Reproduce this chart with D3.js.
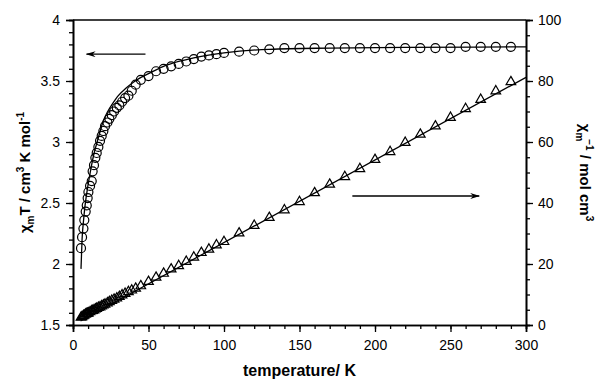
<!doctype html>
<html lang="en">
<head>
	<meta charset="UTF-8">
	<title>chi T</title>
	<script src="https://cdn.jsdelivr.net/npm/d3@7"></script>
	<style>
		body { margin: 0; background: #fff; }
		text { font-family: "Liberation Sans", Arial, sans-serif; }
	</style>
</head>
<body>
<div id="container"></div>
<script>
	var width = 602, height = 381;
	var margin = {"left": 73, "top": 20, "right": 76, "bottom": 56};
	var g_width = width - margin.left - margin.right;
	var g_height = height - margin.top - margin.bottom;

	// temperatures (K) of the measured points
	var temps = [5.3, 6, 6.9, 7.5, 8.4, 9.1, 9.7, 10.2, 11.3, 12.4, 13.0, 13.9, 14.8, 15.7, 16.8, 17.9, 19, 20.1,
		21.2, 22.8, 24.1, 25.7, 27.2, 29, 30.7, 32.5, 34.5, 36.7, 38.9, 41.5, 44.9, 50, 55, 60, 65, 70, 75, 80,
		85, 90, 95, 100, 110, 120, 130, 140, 150, 160, 170, 180, 190, 200, 210, 220, 230, 240, 250, 260, 270,
		280, 290];
	// chi_m T (cm3 K mol-1), left axis
	var chiT = [2.13, 2.22, 2.29, 2.36, 2.43, 2.48, 2.54, 2.59, 2.64, 2.68, 2.76, 2.81, 2.87, 2.91, 2.96, 3.01,
		3.05, 3.09, 3.13, 3.16, 3.19, 3.22, 3.25, 3.28, 3.30, 3.33, 3.36, 3.38, 3.42, 3.47, 3.51, 3.54, 3.58,
		3.60, 3.62, 3.64, 3.66, 3.68, 3.70, 3.71, 3.72, 3.73, 3.74, 3.75, 3.76, 3.77, 3.77, 3.77, 3.77, 3.77,
		3.77, 3.77, 3.77, 3.77, 3.77, 3.77, 3.77, 3.78, 3.78, 3.78, 3.78];
	// chi_m^-1 (mol cm-3), right axis
	var chiInv = [2.5, 2.7, 3.0, 3.2, 3.5, 3.7, 3.8, 3.9, 4.3, 4.6, 4.7, 4.9, 5.2, 5.4, 5.7, 5.9, 6.2, 6.5,
		6.8, 7.2, 7.6, 8.0, 8.4, 8.8, 9.3, 9.8, 10.3, 10.9, 11.4, 12.0, 12.8, 14.2, 15.6, 16.9, 18.3, 19.4,
		20.8, 22.2, 23.7, 24.8, 26.2, 27.3, 30.1, 32.6, 35.2, 37.7, 40.4, 43.3, 46.1, 48.6, 51.2, 54.2, 56.8,
		59.8, 62.5, 65.2, 68.0, 70.9, 73.9, 76.7, 79.7];

	// fitted curves
	var fitT = [5.3, 6, 7, 8, 10, 12, 14, 16, 18, 20, 23, 26, 30, 35, 40, 45, 50, 60, 70, 80, 100, 130, 170, 220, 300];
	var fitChiT = [1.96, 2.2, 2.36, 2.48, 2.65, 2.79, 2.91, 3.0, 3.09, 3.17, 3.25, 3.31, 3.38, 3.44, 3.49, 3.53,
		3.56, 3.62, 3.66, 3.69, 3.73, 3.76, 3.77, 3.775, 3.78];
	var fitInvT = [5, 300];
	var fitInv = [1.3, 81.2];

	var xTicks = [0, 50, 100, 150, 200, 250, 300];
	var yLeftTicks = [1.5, 2, 2.5, 3, 3.5, 4];
	var yRightTicks = [0, 20, 40, 60, 80, 100];

	var scale_x = d3.scaleLinear().domain([0, 300]).range([0, g_width]);
	var scale_yl = d3.scaleLinear().domain([1.5, 4]).range([g_height, 0]);
	var scale_yr = d3.scaleLinear().domain([0, 100]).range([g_height, 0]);

	var svg = d3.select("#container").append("svg")
			.attr("width", width)
			.attr("height", height);

	var g = svg.append("g")
			.attr("transform", "translate(" + margin.left + "," + margin.top + ")");

	function styleAxis(sel) {
		sel.select(".domain").attr("stroke", "#000").attr("stroke-width", 1.6);
		sel.selectAll(".tick line").attr("stroke", "#000").attr("stroke-width", 1.3);
		sel.selectAll("text").attr("font-size", 14).attr("fill", "#000")
				.style("font-family", "'Liberation Sans', Arial, sans-serif");
	}

	// minor ticks first
	g.append("g").attr("transform", "translate(0," + g_height + ")")
			.call(d3.axisBottom(scale_x).tickValues(d3.range(0, 301, 10)).tickSize(4).tickFormat(""))
			.call(styleAxis);
	g.append("g")
			.call(d3.axisLeft(scale_yl).tickValues(d3.range(15, 41).map(function (d) { return d / 10; })).tickSize(4).tickFormat(""))
			.call(styleAxis);
	g.append("g").attr("transform", "translate(" + g_width + ",0)")
			.call(d3.axisRight(scale_yr).tickValues(d3.range(0, 101, 5)).tickSize(4).tickFormat(""))
			.call(styleAxis);

	// major ticks
	g.append("g").attr("transform", "translate(0," + g_height + ")")
			.call(d3.axisBottom(scale_x).tickValues(xTicks).tickSize(7).tickPadding(8).tickFormat(d3.format("")))
			.call(styleAxis);
	g.append("g")
			.call(d3.axisLeft(scale_yl).tickValues(yLeftTicks).tickSize(7).tickPadding(6).tickFormat(d3.format("")))
			.call(styleAxis);
	g.append("g").attr("transform", "translate(" + g_width + ",0)")
			.call(d3.axisRight(scale_yr).tickValues(yRightTicks).tickSize(7).tickPadding(5).tickFormat(d3.format("")))
			.call(styleAxis);

	// top frame
	g.append("line").attr("x1", 0).attr("x2", g_width).attr("y1", 0).attr("y2", 0)
			.attr("stroke", "#000").attr("stroke-width", 1.6);

	// fit lines
	var line_l = d3.line()
			.x(function (d, i) { return scale_x(fitT[i]); })
			.y(function (d) { return scale_yl(d); })
			.curve(d3.curveMonotoneX);
	g.append("path").attr("d", line_l(fitChiT))
			.attr("fill", "none").attr("stroke", "#000").attr("stroke-width", 1.3);

	var line_r = d3.line()
			.x(function (d, i) { return scale_x(fitInvT[i]); })
			.y(function (d) { return scale_yr(d); });
	g.append("path").attr("d", line_r(fitInv))
			.attr("fill", "none").attr("stroke", "#000").attr("stroke-width", 1.3);

	// circles
	g.selectAll(".c").data(chiT).enter().append("circle")
			.attr("cx", function (d, i) { return scale_x(temps[i]); })
			.attr("cy", function (d) { return scale_yl(d); })
			.attr("r", 4.5)
			.attr("fill", "none").attr("stroke", "#000").attr("stroke-width", 1.2);

	// triangles
	var tri = d3.symbol().type(d3.symbolTriangle).size(40);
	g.selectAll(".t").data(chiInv).enter().append("path")
			.attr("d", tri)
			.attr("transform", function (d, i) {
				return "translate(" + scale_x(temps[i]) + "," + scale_yr(d) + ")";
			})
			.attr("fill", "none").attr("stroke", "#000").attr("stroke-width", 1.2);

	// arrows
	svg.append("defs").append("marker")
			.attr("id", "ah").attr("viewBox", "0 0 10 6").attr("refX", 9).attr("refY", 3)
			.attr("markerWidth", 10).attr("markerHeight", 6).attr("markerUnits", "userSpaceOnUse")
			.attr("orient", "auto")
			.append("path").attr("d", "M0,0 L10,3 L0,6 L3,3 Z").attr("fill", "#000");
	g.append("line")
			.attr("x1", scale_x(48)).attr("y1", scale_yl(3.72))
			.attr("x2", scale_x(9)).attr("y2", scale_yl(3.72))
			.attr("stroke", "#000").attr("stroke-width", 1.3).attr("marker-end", "url(#ah)");
	g.append("line")
			.attr("x1", scale_x(185)).attr("y1", scale_yr(42.3))
			.attr("x2", scale_x(269)).attr("y2", scale_yr(42.3))
			.attr("stroke", "#000").attr("stroke-width", 1.3).attr("marker-end", "url(#ah)");

	// axis titles
	svg.append("text")
			.attr("x", margin.left + g_width / 2).attr("y", 376)
			.attr("text-anchor", "middle").attr("font-size", 16).attr("font-weight", "bold")
			.text("temperature/ K");

	var lt = svg.append("text")
			.attr("transform", "translate(30," + (margin.top + g_height / 2) + ") rotate(-90)")
			.attr("text-anchor", "middle").attr("font-size", 15).attr("font-weight", "bold");
	lt.append("tspan").text("χ");
	lt.append("tspan").attr("dy", 4).attr("font-size", 10).text("m");
	lt.append("tspan").attr("dy", -4).text("T  / cm");
	lt.append("tspan").attr("dy", -6).attr("font-size", 10).text("3");
	lt.append("tspan").attr("dy", 6).text(" K mol");
	lt.append("tspan").attr("dy", -6).attr("font-size", 10).text("-1");

	var rt = svg.append("text")
			.attr("transform", "translate(580," + (margin.top + g_height / 2) + ") rotate(90)")
			.attr("text-anchor", "middle").attr("font-size", 15).attr("font-weight", "bold");
	rt.append("tspan").text("χ");
	rt.append("tspan").attr("dy", 4).attr("font-size", 10).text("m");
	rt.append("tspan").attr("dy", -10).attr("dx", -2).attr("font-size", 10).text("−1");
	rt.append("tspan").attr("dy", 6).text(" / mol cm");
	rt.append("tspan").attr("dy", -6).attr("font-size", 10).text("3");
</script>
</body>
</html>
